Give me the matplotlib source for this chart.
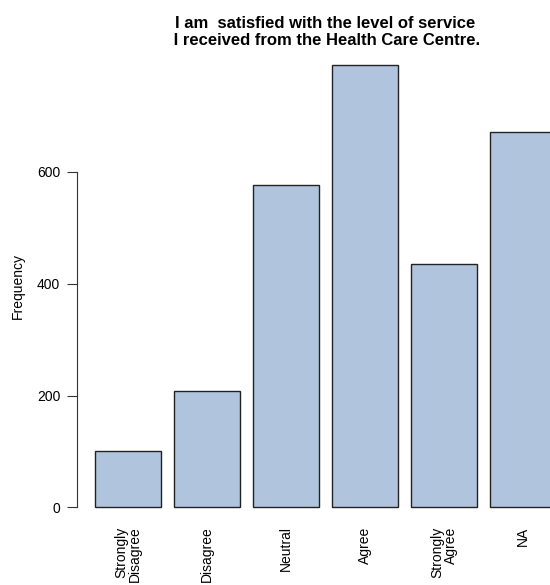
import matplotlib
matplotlib.use("Agg")
import matplotlib.pyplot as plt
import numpy as np

plt.rcParams["font.family"] = ["Liberation Sans", "DejaVu Sans"]

# survey answers and their counts
categories = ["Strongly\nDisagree", "Disagree", "Neutral", "Agree", "Strongly\nAgree", "NA"]
counts = [101, 209, 576, 792, 435, 672]
yticks = [0, 200, 400, 600]

fig = plt.figure(figsize=(5.5, 5.85), dpi=100)
W, H = 550, 585
# axes in pixel terms (R style plot region, extends a bit past the right edge)
left, right, top, bottom = 77, 574, 47, 525
ax = fig.add_axes([left / W, (H - bottom) / H, (right - left) / W, (bottom - top) / H])

# R barplot layout: width 1, space 0.2
pos = 0.2 + 1.2 * np.arange(len(counts)) + 0.5
ax.bar(pos, counts, width=1.0, color="#B0C4DE", edgecolor="#222222", linewidth=1.0)

ymax = max(counts)
ax.set_xlim(0.2 - 0.04 * 7.0, 7.2 + 0.04 * 7.0)
ax.set_ylim(-0.04 * ymax, ymax * 1.04)

for s in ["top", "right", "bottom"]:
    ax.spines[s].set_visible(False)
ax.spines["left"].set_bounds(0, 600)
ax.spines["left"].set_color("#333333")
ax.set_yticks(yticks)
ax.tick_params(axis="y", length=7, width=0.8, color="#333333", labelsize=10, pad=5)
ax.tick_params(axis="x", length=0)
ax.set_xticks([])

for x, lab in zip(pos, categories):
    ax.annotate(lab, xy=(x, 0), xycoords=("data", "axes fraction"),
                xytext=(0, -1), textcoords="offset points",
                rotation=90, ha="center", va="top", multialignment="right",
                fontsize=10, linespacing=0.95)

ax.set_ylabel("Frequency", fontsize=10, labelpad=9)
fig.text((left + 248) / W, 1 - 32 / H,
         "I am  satisfied with the level of service\n I received from the Health Care Centre.",
         fontsize=12, fontweight="bold", ha="center", va="center", linespacing=1.1)

fig.savefig("out.png", dpi=100)
